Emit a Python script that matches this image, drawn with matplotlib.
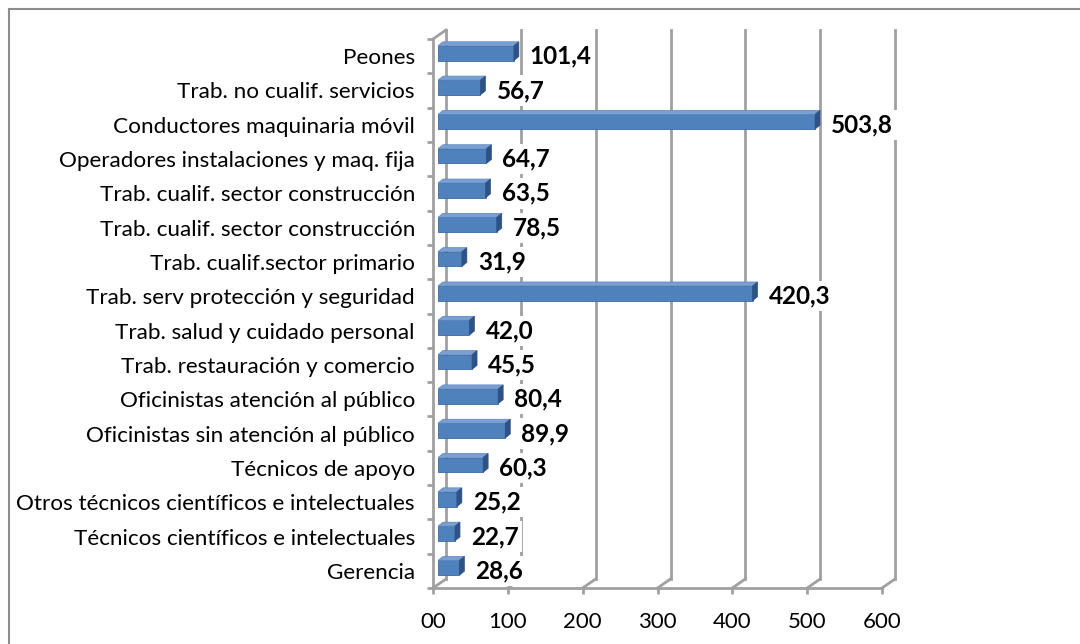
import numpy as np
import matplotlib; matplotlib.use("Agg")
import matplotlib.pyplot as plt
from matplotlib.patches import Polygon
from matplotlib.lines import Line2D
plt.rcParams.update({'font.family':['Lato','DejaVu Sans']})

# data (top to bottom as in the chart)
cats=["Peones","Trab. no cualif. servicios","Conductores maquinaria móvil","Operadores instalaciones y maq. fija",
 "Trab. cualif. sector construcción","Trab. cualif. sector construcción","Trab. cualif.sector primario",
 "Trab. serv protección y seguridad","Trab. salud y cuidado personal","Trab. restauración y comercio",
 "Oficinistas atención al público","Oficinistas sin atención al público","Técnicos de apoyo",
 "Otros técnicos científicos e intelectuales","Técnicos científicos e intelectuales","Gerencia"]
vals=[101.4,56.7,503.8,64.7,63.5,78.5,31.9,420.3,42.0,45.5,80.4,89.9,60.3,25.2,22.7,28.6]
xticks=[0,100,200,300,400,500,600]
xticklabels=["00","100","200","300","400","500","600"]

cats=cats[::-1]; vals=vals[::-1]
n=len(cats); y=np.arange(n)
W,H=1080,644
fig=plt.figure(figsize=(W/100,H/100),dpi=100)
ax=fig.add_axes([433/W,(H-588)/H,449/W,549/H])
ax.set_xlim(0,600); ax.set_ylim(-0.5,n-0.5)
# px -> data units
sx=600/449; sy=n/549
GC='#a0a0a0'
# back wall + floor grid (3d depth 13px right, 9px up)
DX,DY=13*sx,9*sy
for v in xticks:
    ax.plot([v+DX,v+DX],[-0.5+DY,n-0.5+DY],color=GC,lw=2,zorder=1,clip_on=False)
    ax.plot([v,v+DX],[-0.5,-0.5+DY],color=GC,lw=2,zorder=1,clip_on=False)
ax.plot([0,DX],[n-0.5,n-0.5+DY],color=GC,lw=2,zorder=1,clip_on=False)

# bars with 3d faces
h=0.43; x0=5*sx; oy=3*sy; dx=5*sx; dy=4*sy
ax.barh(y+oy,vals,left=x0,height=h,color='#4f81bd',edgecolor='#3d6aa3',lw=0.6,zorder=3)
for yi,v in zip(y,vals):
    yt=yi+oy+h/2; yb=yi+oy-h/2
    ax.add_patch(Polygon([(x0,yt),(x0+v,yt),(x0+v+dx,yt+dy),(x0+dx,yt+dy)],closed=True,
        facecolor='#7aa0d2',edgecolor='#5a86bf',lw=0.5,zorder=3,clip_on=False))
    ax.add_patch(Polygon([(x0+v,yb),(x0+v,yt),(x0+v+dx,yt+dy),(x0+v+dx,yb+dy)],closed=True,
        facecolor='#2e5285',edgecolor='#2e5285',lw=0.5,zorder=3,clip_on=False))
    ax.annotate(f'{v:.1f}'.replace('.',','),xy=(x0+v+dx,yi),xytext=(11,0),textcoords='offset pixels',
        ha='left',va='center',fontsize=17.5,fontweight='bold',zorder=5,
        bbox=dict(boxstyle='square,pad=0.15',fc='white',ec='none'))

# axes lines / ticks
for s in ['top','right']: ax.spines[s].set_visible(False)
for s in ['left','bottom']: ax.spines[s].set_color(GC); ax.spines[s].set_linewidth(2)
ax.set_xticks(xticks); ax.set_xticklabels(xticklabels,fontsize=16)
ax.tick_params(axis='x',length=4.3,width=2,color=GC,pad=13)
ax.set_yticks(y); ax.set_yticklabels(cats,fontsize=16.2)
ax.set_yticks(np.arange(n+1)-0.5,minor=True)
ax.tick_params(axis='y',which='major',length=0,pad=13)
ax.tick_params(axis='y',which='minor',length=4,width=2,color=GC)
ax.patch.set_visible(False)

# outer chart frame
fig.add_artist(Line2D([9/W,1],[1-9/H,1-9/H],transform=fig.transFigure,color='#8c8c8c',lw=1.5))
fig.add_artist(Line2D([9/W,9/W],[0,1-9/H],transform=fig.transFigure,color='#8c8c8c',lw=1.5))
fig.savefig('out.png',dpi=100,facecolor='white')
